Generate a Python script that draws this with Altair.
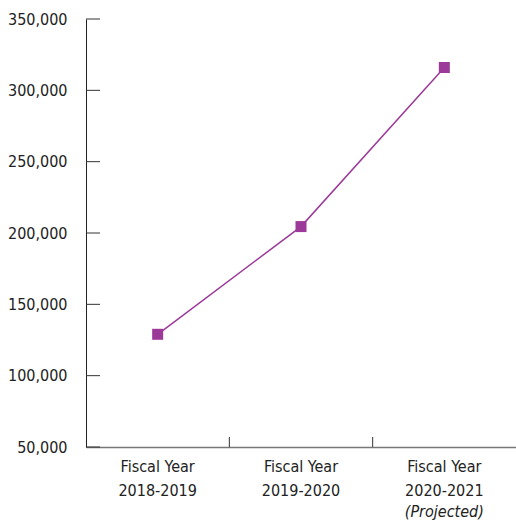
import altair as alt
import pandas as pd

categories = ["Fiscal Year\n2018-2019", "Fiscal Year\n2019-2020", "Fiscal Year\n2020-2021"]
values = [129000, 204500, 316000]
y_ticks = [50000, 100000, 150000, 200000, 250000, 300000, 350000]
notes = ["", "", "(Projected)"]

FONT = "DejaVu Sans Condensed, Liberation Sans Narrow, sans-serif"
PURPLE = "#9b3a98"
W, H = 430, 428

df = pd.DataFrame({"cat": categories, "value": values, "note": notes})
tick_df = pd.DataFrame({"value": y_ticks})
band_df = pd.DataFrame({"cat": categories[:2]})

xscale = alt.Scale(domain=categories, paddingInner=0, paddingOuter=0)
yscale = alt.Scale(domain=[50000, 350000], nice=False, zero=False)

x_axis = alt.Axis(
    labelAngle=0, labelAlign="center", ticks=False, grid=False,
    domainColor="#777777", domainWidth=1.5,
    labelExpr="split(datum.label, '\\n')", labelFont=FONT, labelFontSize=16,
    labelColor="#222222", labelPadding=11, labelLineHeight=24, labelBaseline="top",
)
y_axis = alt.Axis(
    values=y_ticks, format=",.0f", ticks=False, grid=False, domainColor="#222222",
    labelFont=FONT, labelFontSize=16, labelColor="#222222", labelPadding=19,
)

def X(**kw):
    return alt.X("cat:N", scale=xscale, sort=categories, title=None, axis=x_axis, **kw)

def Y():
    return alt.Y("value:Q", scale=yscale, title=None, axis=y_axis)

line = alt.Chart(df).mark_line(color=PURPLE, strokeWidth=1.5).encode(x=X(), y=Y())
pts = alt.Chart(df).mark_square(color=PURPLE, size=121, opacity=1).encode(x=X(), y=Y())
yticks = alt.Chart(tick_df).mark_rule(color="#333333", strokeWidth=1).encode(
    y=Y(), x=alt.value(0), x2=alt.value(14)
)
xticks = alt.Chart(band_df).mark_rule(color="#333333", strokeWidth=1).encode(
    x=X(bandPosition=1), y=alt.value(H - 10), y2=alt.value(H),
)
proj = alt.Chart(df).mark_text(
    font=FONT, fontSize=16, fontStyle="italic", color="#222222", baseline="top"
).encode(x=X(), y=alt.value(H + 57), text="note:N")

chart = (
    alt.layer(line, yticks, xticks, pts, proj)
    .properties(
        width=W, height=H, background="white",
        autosize=alt.AutoSizeParams(type="none"),
        padding={"left": 86, "top": 19, "right": 0, "bottom": 73},
    )
    .configure_view(stroke=None)
)

chart.save("out.html", embed_options={"renderer": "svg", "actions": False})
